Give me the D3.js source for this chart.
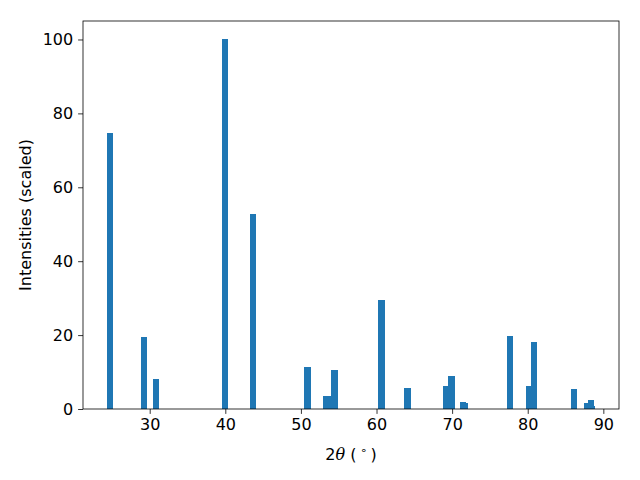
<html>
<head>
<script src="https://d3js.org/d3.v7.min.js"></script>
<style>
  body { margin: 0; background: white; }
  text { font-family: "DejaVu Sans", sans-serif; }
</style>
</head>
<body>
<svg width="640" height="480"></svg>
<script>
// peak positions (2theta, degrees) and scaled intensities
var positions = [24.80, 29.30, 30.89, 40.02, 43.72, 50.87, 53.38, 53.65, 54.44, 60.66,
                 64.10, 69.13, 69.92, 71.38, 71.64, 77.60, 80.11, 80.77, 86.07, 87.79,
                 88.32, 88.45];
var intensities = [74.6, 19.5, 8.1, 100, 52.9, 11.4, 3.5, 3.5, 10.6, 29.6,
                   5.7, 6.2, 8.9, 1.9, 1.6, 19.8, 6.2, 18.2, 5.4, 1.5,
                   2.4, 0.8];
var xTicks = [30, 40, 50, 60, 70, 80, 90];
var yTicks = [0, 20, 40, 60, 80, 100];
var barWidth = 0.8;

var margin = {left: 83, top: 21, right: 21, bottom: 71};
var w = 640 - margin.left - margin.right;
var h = 480 - margin.top - margin.bottom;
var fontSize = 16;

var data = positions.map(function(p, i) { return {x: p, y: intensities[i]}; });

// matplotlib style 5% margins around the bar extents
var lo = d3.min(positions) - barWidth / 2;
var hi = d3.max(positions) + barWidth / 2;
var pad = (hi - lo) * 0.05;
var x = d3.scaleLinear().domain([lo - pad, hi + pad]).range([0, w]);
var y = d3.scaleLinear().domain([0, 105]).range([h, 0]);

var svg = d3.select("svg");
var g = svg.append("g")
    .attr("transform", "translate(" + margin.left + "," + margin.top + ")");

g.selectAll("rect.bar")
    .data(data)
    .enter()
    .append("rect")
    .attr("class", "bar")
    .attr("x", function(d) { return x(d.x - barWidth / 2); })
    .attr("width", function(d) { return x(d.x + barWidth / 2) - x(d.x - barWidth / 2); })
    .attr("y", function(d) { return y(d.y); })
    .attr("height", function(d) { return h - y(d.y); })
    .attr("fill", "#1f77b4")
    .attr("shape-rendering", "crispEdges");

var xAxis = d3.axisBottom(x).tickValues(xTicks).tickSize(4.9).tickPadding(4.9);
var yAxis = d3.axisLeft(y).tickValues(yTicks).tickSize(4.9).tickPadding(4.9);

var gx = g.append("g").attr("transform", "translate(0," + h + ")").call(xAxis);
var gy = g.append("g").call(yAxis);

[gx, gy].forEach(function(a) {
  a.select(".domain").remove();
  a.selectAll("line").attr("stroke", "black").attr("stroke-width", 0.8);
  a.selectAll("text")
      .attr("fill", "black")
      .style("font-size", fontSize + "px")
      .style("font-family", "DejaVu Sans");
});

// frame
g.append("rect")
    .attr("width", w)
    .attr("height", h)
    .attr("fill", "none")
    .attr("stroke", "black")
    .attr("stroke-width", 0.8);

// x label: 2θ (°)
var xl = svg.append("text")
    .attr("x", margin.left + w / 2)
    .attr("y", 460)
    .attr("text-anchor", "middle")
    .style("font-size", fontSize + "px");
xl.append("tspan").text("2");
xl.append("tspan").attr("font-family", "DejaVu Serif").attr("font-style", "italic").text("θ");
xl.append("tspan").text(" (");
xl.append("tspan").attr("dy", -6).style("font-size", "11px").text(" ∘ ");
xl.append("tspan").attr("dy", 6).text(")");

// y label
svg.append("text")
    .attr("transform", "translate(31," + (margin.top + h / 2) + ") rotate(-90)")
    .attr("text-anchor", "middle")
    .style("font-size", fontSize + "px")
    .text("Intensities (scaled)");
</script>
</body>
</html>
